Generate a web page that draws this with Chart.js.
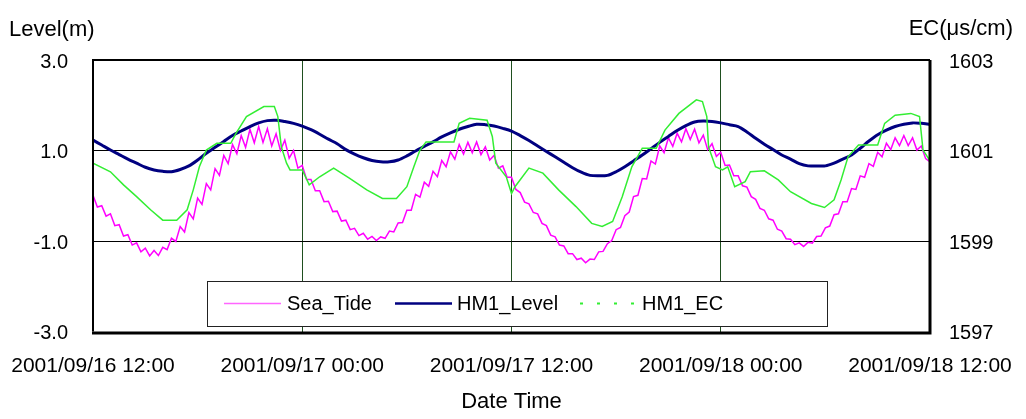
<!DOCTYPE html>
<html>
<head>
<meta charset="utf-8">
<script src="https://cdn.jsdelivr.net/npm/chart.js@4"></script>
<style>
  html, body { margin: 0; padding: 0; background: #fff; }
  #wrap { width: 1026px; height: 419px; position: relative; }
</style>
</head>
<body>
<div id="wrap"><canvas id="c"></canvas></div>
<script>
// ---- data (hours after 2001/09/16 12:00) ----
const xTickLabels = ['2001/09/16 12:00', '2001/09/17 00:00', '2001/09/17 12:00', '2001/09/18 00:00', '2001/09/18 12:00'];
const yLeftTicks = [-3, -1, 1, 3];
const yRightTicks = [1597, 1599, 1601, 1603];

// Sea_Tide, every 15 minutes (m)
const seaTide = [
  0.01,-0.25,-0.22,-0.45,-0.40,-0.66,-0.64,-0.89,-0.86,-1.09,-1.04,-1.24,-1.16,-1.33,-1.21,-1.32,
  -1.14,-1.19,-0.94,-1.01,-0.68,-0.80,-0.37,-0.51,-0.05,-0.19,0.27,0.13,0.60,0.45,0.89,0.71,
  1.13,0.93,1.33,1.07,1.47,1.17,1.53,1.18,1.48,1.10,1.37,1.00,1.23,0.83,1.00,0.61,
  0.67,0.36,0.36,0.11,0.11,-0.13,-0.12,-0.35,-0.34,-0.56,-0.54,-0.75,-0.72,-0.88,-0.83,-0.96,
  -0.90,-0.99,-0.91,-0.94,-0.78,-0.80,-0.60,-0.59,-0.32,-0.32,0.03,-0.03,0.30,0.21,0.54,0.42,
  0.78,0.64,0.97,0.81,1.13,0.92,1.18,0.95,1.19,0.91,1.08,0.79,0.89,0.61,0.66,0.41,
  0.41,0.14,0.07,-0.14,-0.18,-0.37,-0.40,-0.61,-0.66,-0.87,-0.91,-1.09,-1.11,-1.28,-1.28,-1.41,
  -1.38,-1.48,-1.40,-1.41,-1.24,-1.23,-1.06,-0.99,-0.75,-0.70,-0.44,-0.36,-0.02,0.01,0.38,0.37,
  0.77,0.70,1.10,0.95,1.28,1.09,1.38,1.19,1.48,1.24,1.47,1.17,1.34,1.02,1.15,0.87,
  0.96,0.67,0.68,0.44,0.44,0.22,0.19,-0.02,-0.08,-0.28,-0.32,-0.51,-0.54,-0.74,-0.78,-0.95,
  -0.96,-1.08,-1.04,-1.12,-1.03,-1.05,-0.90,-0.89,-0.71,-0.67,-0.42,-0.40,-0.13,-0.13,0.16,0.14,
  0.44,0.41,0.71,0.65,0.96,0.86,1.16,1.02,1.28,1.11,1.33,1.11,1.28,1.01,1.10,0.82,
  0.75
];

// HM1_Level, every 30 minutes (m)
const hm1Level = [
  1.23,1.12,1.01,0.91,0.81,0.72,0.63,0.57,0.54,0.53,0.58,0.66,0.79,0.94,1.07,1.20,
  1.33,1.43,1.53,1.61,1.66,1.67,1.64,1.60,1.54,1.46,1.36,1.25,1.15,1.02,0.92,0.84,
  0.78,0.75,0.75,0.79,0.88,0.99,1.09,1.19,1.30,1.39,1.47,1.53,1.58,1.57,1.54,1.49,
  1.43,1.33,1.22,1.10,0.98,0.86,0.74,0.62,0.52,0.45,0.44,0.45,0.53,0.64,0.77,0.90,
  1.04,1.18,1.31,1.44,1.55,1.63,1.65,1.64,1.61,1.57,1.53,1.41,1.27,1.14,1.02,0.90,
  0.81,0.71,0.66,0.66,0.66,0.72,0.81,0.90,1.05,1.21,1.35,1.45,1.53,1.58,1.61,1.60,
  1.58
];

// HM1_EC (μs/cm), read at these times (hours)
const ecTimes = [
  0,1,1.75,2.5,3.3,4.0,4.8,5.4,5.75,6.1,6.5,7.1,7.9,8.2,8.8,9.8,10.4,10.6,10.8,11.1,
  11.3,12,12.4,13,13.8,14.7,15.7,16.6,17.4,18,18.4,18.75,19.1,20.7,21,21.6,22.6,22.9,23.1,23.7,
  24.0,24.2,25,25.8,26.7,27.7,28.6,29.2,29.8,30.35,30.9,31.5,32.3,32.8,33.6,34.6,34.95,35.2,35.3,35.7,
  36.1,36.4,36.8,37.4,37.7,38.5,39.3,40,41.2,41.95,42.5,42.9,43.3,43.9,45,45.4,46,46.9,47.4,47.6,
  47.9,48
];
const hm1EC = [
  1600.72,1600.53,1600.24,1599.98,1599.69,1599.46,1599.46,1599.69,1600.13,1600.64,
  1601.01,1601.16,1601.16,1601.38,1601.75,1601.97,1601.97,1601.75,1601.08,1600.72,
  1600.57,1600.57,1600.24,1600.42,1600.61,1600.39,1600.13,1599.94,1599.94,1600.20,
  1600.64,1601.01,1601.19,1601.19,1601.60,1601.71,1601.67,1601.31,1600.72,1600.42,
  1600.05,1600.20,1600.61,1600.50,1600.13,1599.76,1599.39,1599.32,1599.43,1599.98,
  1600.64,1601.05,1601.05,1601.45,1601.82,1602.12,1602.08,1601.75,1601.08,1600.64,
  1600.57,1600.64,1600.20,1600.31,1600.53,1600.55,1600.35,1600.09,1599.83,1599.74,
  1599.91,1600.35,1600.86,1601.12,1601.12,1601.60,1601.78,1601.82,1601.75,1601.01,
  1600.83,1600.75
];

const seriesNames = ['Sea_Tide', 'HM1_Level', 'HM1_EC'];
const seriesColors = ['#ff00ff', '#000080', '#33ee33'];

const toPts = (xs, ys) => ys.map((y, i) => ({ x: xs[i], y }));
const tideTimes = seaTide.map((_, i) => i * 0.25);
const levelTimes = hm1Level.map((_, i) => i * 0.5);

const FONT = "'Liberation Sans', Arial, sans-serif";
Chart.defaults.font.family = FONT;
Chart.defaults.color = '#000';

const framePlugin = {
  id: 'frame',
  afterDatasetsDraw(chart) {
    const { ctx, chartArea: a } = chart;
    ctx.save();
    ctx.strokeStyle = '#000';
    ctx.lineWidth = 2;
    ctx.beginPath();
    ctx.moveTo(a.left, a.bottom); ctx.lineTo(a.left, a.top); ctx.lineTo(a.right, a.top);
    ctx.stroke();
    ctx.lineWidth = 3;
    ctx.beginPath();
    ctx.moveTo(a.right, a.top); ctx.lineTo(a.right, a.bottom + 1.5); ctx.lineTo(a.left - 1, a.bottom + 1.5);
    ctx.stroke();

    // legend box
    const bx = 207, by = 281, bw = 620, bh = 45;
    ctx.fillStyle = '#fff';
    ctx.fillRect(bx, by, bw, bh);
    ctx.lineWidth = 1;
    ctx.strokeStyle = '#222';
    ctx.strokeRect(bx + 0.5, by + 0.5, bw, bh);
    const ly = 303.5;
    const items = [
      { lx: 224, tx: 287, w: 1.5, dash: [] , color: '#ff66ff'},
      { lx: 395, tx: 457, w: 2.5, dash: [], color: seriesColors[1] },
      { lx: 580, tx: 642, w: 2, dash: [3, 14], color: seriesColors[2] }
    ];
    ctx.font = '20px ' + FONT;
    ctx.textBaseline = 'middle';
    ctx.textAlign = 'left';
    items.forEach((it, i) => {
      ctx.beginPath();
      ctx.setLineDash(it.dash);
      ctx.strokeStyle = it.color;
      ctx.lineWidth = it.w;
      ctx.moveTo(it.lx, ly); ctx.lineTo(it.lx + 57, ly);
      ctx.stroke();
      ctx.setLineDash([]);
      ctx.fillStyle = '#000';
      ctx.fillText(chart.data.datasets[i].label, it.tx, ly + 1);
    });

    // top axis titles
    ctx.font = '22px ' + FONT;
    ctx.textAlign = 'left';
    ctx.fillText('Level(m)', 9, 30);
    ctx.textAlign = 'right';
    ctx.fillText('EC(μs/cm)', 1013, 29);
    ctx.restore();
  }
};

new Chart(document.getElementById('c'), {
  type: 'line',
  data: {
    datasets: [
      { label: seriesNames[0], data: toPts(tideTimes, seaTide), yAxisID: 'y', borderColor: seriesColors[0], borderWidth: 1.5, pointRadius: 0, tension: 0, order: 3 },
      { label: seriesNames[1], data: toPts(levelTimes, hm1Level), yAxisID: 'y', borderColor: seriesColors[1], borderWidth: 3, pointRadius: 0, tension: 0.3, order: 2 },
      { label: seriesNames[2], data: toPts(ecTimes, hm1EC), yAxisID: 'y1', borderColor: seriesColors[2], borderWidth: 1.5, pointRadius: 0, tension: 0, order: 1 }
    ]
  },
  options: {
    responsive: true,
    maintainAspectRatio: false,
    animation: false,
    events: [],
    layout: { padding: { top: 60, left: 0, right: 0, bottom: 0 } },
    plugins: { legend: { display: false }, tooltip: { enabled: false } },
    scales: {
      x: {
        type: 'linear', min: 0, max: 48,
        afterFit(s) { s.height = 87.5; s.paddingLeft = 0; s.paddingRight = 0; },
        afterBuildTicks(s) { s.ticks = xTickLabels.map((_, i) => ({ value: i * 12 })); },
        ticks: { autoSkip: false, maxRotation: 0, padding: 22, font: { size: 21 },
                 callback: (v) => xTickLabels[Math.round(v / 12)] },
        grid: { drawTicks: false, lineWidth: 1,
                color: (c) => (c.tick && (c.tick.value === 0 || c.tick.value === 48)) ? 'rgba(0,0,0,0)' : '#1f4f1f' },
        border: { display: false },
        title: { display: true, text: 'Date Time', font: { size: 22 }, padding: { top: 0, bottom: 4 } }
      },
      y: {
        position: 'left', min: -3, max: 3,
        afterFit(s) { s.width = 93; s.paddingTop = 0; s.paddingBottom = 0; },
        afterBuildTicks(s) { s.ticks = yLeftTicks.map(v => ({ value: v })); },
        ticks: { padding: 25, labelOffset: 2, font: { size: 20 }, callback: (v) => v.toFixed(1) },
        grid: { drawTicks: false, lineWidth: 1,
                color: (c) => (c.tick && Math.abs(c.tick.value) === 3) ? 'rgba(0,0,0,0)' : '#000' },
        border: { display: false }
      },
      y1: {
        position: 'right', min: 1597, max: 1603,
        afterFit(s) { s.width = 96; s.paddingTop = 0; s.paddingBottom = 0; },
        afterBuildTicks(s) { s.ticks = yRightTicks.map(v => ({ value: v })); },
        ticks: { padding: 19, labelOffset: 2, font: { size: 20 }, callback: (v) => String(v) },
        grid: { display: false, drawTicks: false },
        border: { display: false }
      }
    }
  },
  plugins: [framePlugin]
});
</script>
</body>
</html>
